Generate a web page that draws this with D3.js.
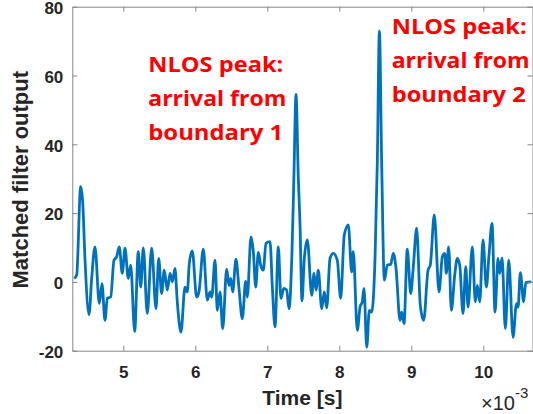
<!DOCTYPE html>
<html>
<head>
<meta charset="utf-8">
<script src="https://cdn.jsdelivr.net/npm/d3@7"></script>
<style>
  html, body { margin: 0; padding: 0; background: #fff; }
  svg { display: block; }
</style>
</head>
<body>
<svg id="chart" width="533" height="414"></svg>
<script>
// time in units of 1e-3 s
const timeMs = [
  4.318, 4.353, 4.408, 4.436, 4.468, 4.524, 4.561, 4.607, 4.667, 4.704,
  4.746, 4.778, 4.825, 4.871, 4.908, 4.944, 4.986, 5.024, 5.069, 5.103,
  5.158, 5.208, 5.242, 5.278, 5.333, 5.394, 5.454, 5.492, 5.533, 5.569,
  5.611, 5.649, 5.681, 5.718, 5.750, 5.801, 5.857, 5.889, 5.917, 5.958,
  6.019, 6.051, 6.111, 6.167, 6.204, 6.228, 6.274, 6.306, 6.343, 6.381,
  6.436, 6.468, 6.492, 6.519, 6.565, 6.607, 6.653, 6.700, 6.722, 6.774,
  6.806, 6.839, 6.875, 6.908, 6.944, 6.982, 7.038, 7.069, 7.107, 7.153,
  7.190, 7.228, 7.269, 7.301, 7.342, 7.369, 7.399, 7.431, 7.454, 7.482,
  7.514, 7.556, 7.617, 7.649, 7.676, 7.708, 7.756, 7.792, 7.825, 7.871,
  7.917, 7.972, 8.019, 8.069, 8.125, 8.172, 8.194, 8.250, 8.288, 8.319,
  8.343, 8.381, 8.417, 8.450, 8.496, 8.528, 8.557, 8.588, 8.626, 8.667,
  8.714, 8.750, 8.788, 8.843, 8.867, 8.899, 8.944, 8.992, 9.028, 9.074,
  9.125, 9.172, 9.232, 9.264, 9.319, 9.385, 9.431, 9.464, 9.486, 9.519,
  9.556, 9.603, 9.639, 9.672, 9.718, 9.756, 9.788, 9.847, 9.889, 9.917,
  9.950, 9.996, 10.042, 10.079, 10.121, 10.163, 10.204, 10.228, 10.260, 10.306,
  10.353, 10.413, 10.460, 10.483, 10.514, 10.560, 10.589, 10.667
];
const matchedOutput = [
  1.0, 2.0, 27.7, 23.4, 6.8, -9.5, 1.0, 10.2, -6.3, -0.5,
  -11.2, -4.8, -4.4, 6.3, 7.3, 10.2, 2.5, 9.8, 1.0, 4.9,
  -14.4, 8.8, -1.5, 9.9, -9.2, 9.8, -7.8, 6.8, -3.4, 3.4,
  -2.4, 2.5, 0.0, 3.9, -5.8, -14.6, -1.5, -2.9, 5.4, 9.0,
  -4.4, -2.9, 9.5, -5.3, -2.9, -4.4, 6.3, -8.3, -2.9, -13.6,
  3.7, -1.0, 1.0, -2.9, 6.6, -1.9, -10.7, 0.2, -4.4, 13.1,
  8.8, -1.5, 8.6, 4.9, 3.4, 11.2, 11.7, -1.0, -13.1, 10.2,
  -4.8, -1.9, -2.4, -7.8, 8.0, 30.0, 54.5, 30.0, 17.0, -5.5,
  6.8, 12.2, -3.9, 2.5, -2.4, 3.4, -7.8, -2.9, -7.6, 6.8,
  8.3, 6.3, -4.8, 13.6, 16.6, 2.9, 8.8, -14.1, -7.3, -5.8,
  -1.9, -19.0, -8.3, -8.8, 6.8, 35.0, 73.0, 35.0, 0.5, 4.9,
  5.1, 8.3, 3.9, -11.2, -8.8, -12.1, 9.5, -3.4, 4.4, 15.6,
  -6.8, -11.2, 3.4, 4.9, 19.5, -2.9, 7.3, 8.3, 2.5, 10.2,
  -8.3, 2.0, 6.8, 4.9, -9.2, 4.4, -7.3, 10.2, -5.8, -1.0,
  -5.8, 12.2, -1.5, 7.8, 17.0, -8.8, 6.8, 2.5, 7.0, -13.6,
  6.3, -16.1, -6.3, -7.3, 2.7, -5.8, -0.2, 0.0
];
const xTicks = [5, 6, 7, 8, 9, 10];
const yTicks = [-20, 0, 20, 40, 60, 80];
const xDomain = [4.292, 10.683];
const yDomain = [-20, 80];
const note1Lines = ["NLOS peak:", "arrival from", "boundary 1"];
const note2Lines = ["NLOS peak:", "arrival from", "boundary 2"];
const note1Pos = [5.347, 60.9];
const note2Pos = [8.728, 72.2];
const xLabel = "Time [s]";
const yLabel = "Matched filter output";

const svg = d3.select("#chart");
const L = 72.3, R = 532.5, T = 6.7, B = 350.7;
const x = d3.scaleLinear().domain(xDomain).range([L, R]);
const y = d3.scaleLinear().domain(yDomain).range([B, T]);

const axisColor = "#858585";
const textColor = "#262626";
const tickFont = "bold 17px 'Liberation Sans', Arial, sans-serif";
const plainNum = d => String(d);

function styleAxis(g) {
  g.selectAll(".domain").attr("stroke", axisColor).attr("stroke-width", 1);
  g.selectAll(".tick line").attr("stroke", axisColor).attr("stroke-width", 1);
  g.selectAll(".tick text").attr("fill", textColor).style("font", tickFont);
}

// data line
const data = timeMs.map((t, i) => [t, matchedOutput[i]]);
const line = d3.line().x(d => x(d[0])).y(d => y(d[1])).curve(d3.curveMonotoneX);
svg.append("path")
  .datum(data)
  .attr("d", line)
  .attr("fill", "none")
  .attr("stroke", "#0072BD")
  .attr("stroke-width", 2.8)
  .attr("stroke-linejoin", "round");

// axes (box)
svg.append("g").attr("transform", `translate(0,${B})`)
  .call(d3.axisBottom(x).tickValues(xTicks).tickSizeInner(-5).tickSizeOuter(0).tickPadding(15).tickFormat(plainNum))
  .call(styleAxis);
svg.append("g").attr("transform", `translate(0,${T})`)
  .call(d3.axisTop(x).tickValues(xTicks).tickSizeInner(-5).tickSizeOuter(0).tickFormat(""))
  .call(styleAxis);
svg.append("g").attr("transform", `translate(${L},0)`)
  .call(d3.axisLeft(y).tickValues(yTicks).tickSizeInner(-5).tickSizeOuter(0).tickPadding(9).tickFormat(plainNum))
  .call(styleAxis)
  .call(g => g.selectAll(".tick text").attr("dy", "0.4em"));
svg.append("g").attr("transform", `translate(${R},0)`)
  .call(d3.axisRight(y).tickValues(yTicks).tickSizeInner(-5).tickSizeOuter(0).tickFormat(""))
  .call(styleAxis);

// axis labels
svg.append("text")
  .attr("x", (L + R) / 2).attr("y", 405)
  .attr("text-anchor", "middle")
  .attr("fill", textColor)
  .style("font", "bold 21px 'Liberation Sans', Arial, sans-serif")
  .text(xLabel);
svg.append("text")
  .attr("transform", `translate(28.3,${(T + B) / 2 + 1}) rotate(-90)`)
  .attr("text-anchor", "middle")
  .attr("fill", textColor)
  .style("font", "bold 22px 'Liberation Sans', Arial, sans-serif")
  .text(yLabel);

// exponent label
const expo = svg.append("text")
  .attr("x", 481).attr("y", 410)
  .attr("fill", textColor)
  .style("font", "20px 'Liberation Sans', Arial, sans-serif");
expo.append("tspan").text("\u00d710");
expo.append("tspan").attr("dy", -12).style("font-size", "15px").text("-3");

// annotations
const lineWidths = { "NLOS peak:": 135, "arrival from": 138, "boundary 1": 135, "boundary 2": 134 };
function note(lines, pos) {
  const g = svg.append("g");
  lines.forEach((s, i) => {
    g.append("text")
      .attr("x", x(pos[0]))
      .attr("y", y(pos[1]) + i * 34)
      .attr("fill", "#ff0000")
      .attr("textLength", lineWidths[s])
      .attr("lengthAdjust", "spacingAndGlyphs")
      .style("font", "bold 22px 'Open Sans', sans-serif")
      .text(s);
  });
}
note(note1Lines, note1Pos);
note(note2Lines, note2Pos);
</script>
</body>
</html>
